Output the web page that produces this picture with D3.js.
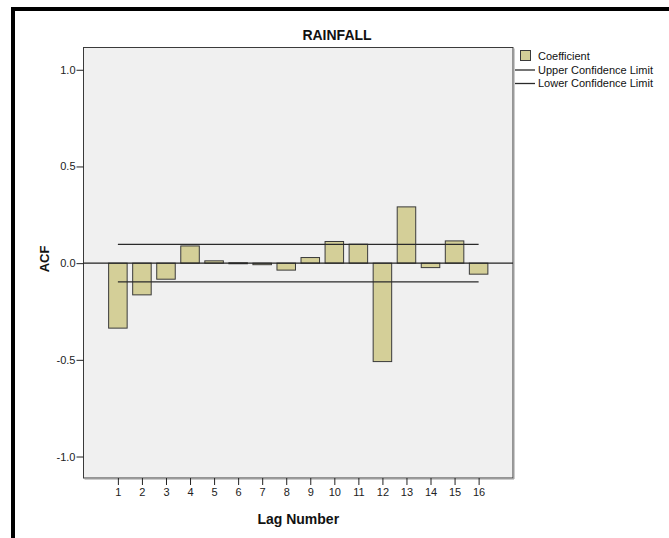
<!DOCTYPE html>
<html>
<head>
<meta charset="utf-8">
<script src="https://cdn.jsdelivr.net/npm/d3@7"></script>
<style>
  html, body { margin: 0; padding: 0; background: #fff; }
  svg { display: block; font-family: "Liberation Sans", Arial, sans-serif; }
</style>
</head>
<body>
<svg id="chart" width="669" height="538"></svg>
<script>
// ---- data ----
const title = "RAINFALL";
const lags = [1, 2, 3, 4, 5, 6, 7, 8, 9, 10, 11, 12, 13, 14, 15, 16];
const coefficients = [-0.336, -0.164, -0.083, 0.089, 0.012, 0.002, -0.008, -0.036,
                      0.029, 0.112, 0.098, -0.509, 0.291, -0.023, 0.115, -0.057];
const upperLimit = [0.097, 0.097, 0.097, 0.097, 0.097, 0.097, 0.097, 0.097,
                    0.097, 0.097, 0.097, 0.097, 0.097, 0.097, 0.097, 0.097];
const lowerLimit = [-0.097, -0.097, -0.097, -0.097, -0.097, -0.097, -0.097, -0.097,
                    -0.097, -0.097, -0.097, -0.097, -0.097, -0.097, -0.097, -0.097];
const yTicks = [-1.0, -0.5, 0.0, 0.5, 1.0];
const legendLabels = ["Coefficient", "Upper Confidence Limit", "Lower Confidence Limit"];
const xLabel = "Lag Number";
const yLabel = "ACF";

// ---- layout ----
const svg = d3.select("#chart");
const plot = { left: 83.5, right: 513, top: 47.5, bottom: 478 };
const barColor = "#d4cf98";

const x = d3.scaleLinear().domain([-0.43, 17.43]).range([plot.left, plot.right]);
const y = d3.scaleLinear().domain([-1.11, 1.11]).range([477.8, 48.5]);
const step = x(2) - x(1);
const barW = step * 0.77;

// outer black frame (top + left)
svg.append("rect").attr("x", 11).attr("y", 7).attr("width", 658).attr("height", 4).attr("fill", "#000");
svg.append("rect").attr("x", 11).attr("y", 7).attr("width", 4).attr("height", 531).attr("fill", "#000");

// plot background
svg.append("rect")
  .attr("x", plot.left).attr("y", plot.top)
  .attr("width", plot.right - plot.left).attr("height", plot.bottom - plot.top)
  .attr("fill", "#f0f0f0").attr("stroke", "#3a3a3a").attr("stroke-width", 1);
// shadow on right/bottom edges
svg.append("path")
  .attr("d", `M${plot.right + 1},${plot.top + 1}V${plot.bottom + 1}H${plot.left + 1}`)
  .attr("fill", "none").attr("stroke", "#9a9a9a").attr("stroke-width", 1);

// bars
const data = lags.map((l, i) => ({ lag: l, v: coefficients[i] }));
svg.append("g").selectAll("rect").data(data).join("rect")
  .attr("x", d => x(d.lag) - barW / 2)
  .attr("y", d => Math.min(y(d.v), y(0)))
  .attr("width", barW)
  .attr("height", d => Math.max(1, Math.abs(y(d.v) - y(0))))
  .attr("fill", barColor)
  .attr("stroke", "#3a3a3a")
  .attr("stroke-width", 1);

// zero line
svg.append("line")
  .attr("x1", plot.left).attr("x2", plot.right)
  .attr("y1", y(0)).attr("y2", y(0))
  .attr("stroke", "#222").attr("stroke-width", 1.3);

// confidence limits
const lineGen = d3.line().x(d => x(d[0])).y(d => y(d[1]));
svg.append("path").datum(lags.map((l, i) => [l, upperLimit[i]]))
  .attr("d", lineGen).attr("fill", "none").attr("stroke", "#2a2a2a").attr("stroke-width", 1.3);
svg.append("path").datum(lags.map((l, i) => [l, lowerLimit[i]]))
  .attr("d", lineGen).attr("fill", "none").attr("stroke", "#2a2a2a").attr("stroke-width", 1.3);

// y axis
const yAxis = d3.axisLeft(y).tickValues(yTicks).tickSizeInner(7).tickSizeOuter(0).tickPadding(1)
  .tickFormat(d => d.toFixed(1));
const gy = svg.append("g").attr("transform", `translate(${plot.left},0)`).call(yAxis);
gy.select(".domain").remove();
gy.selectAll(".tick line").attr("stroke", "#222");
gy.selectAll(".tick text").attr("font-size", 11).attr("fill", "#222")
  .attr("font-family", "Liberation Sans, Arial, sans-serif");

// x axis
const xAxis = d3.axisBottom(x).tickValues(lags).tickSizeInner(7).tickSizeOuter(0).tickPadding(3)
  .tickFormat(d3.format("d"));
const gx = svg.append("g").attr("transform", `translate(0,${plot.bottom})`).call(xAxis);
gx.select(".domain").remove();
gx.selectAll(".tick line").attr("stroke", "#222");
gx.selectAll(".tick text").attr("font-size", 11).attr("fill", "#222")
  .attr("font-family", "Liberation Sans, Arial, sans-serif");

// title
svg.append("text").attr("x", 337).attr("y", 40).attr("text-anchor", "middle")
  .attr("font-size", 14).attr("font-weight", "bold").attr("fill", "#111").text(title);

// axis titles
svg.append("text").attr("x", (plot.left + plot.right) / 2).attr("y", 524)
  .attr("text-anchor", "middle").attr("font-size", 14).attr("font-weight", "bold")
  .attr("fill", "#111").text(xLabel);
svg.append("text").attr("transform", `translate(49,259) rotate(-90)`)
  .attr("text-anchor", "middle").attr("font-size", 13).attr("font-weight", "bold")
  .attr("fill", "#111").text(yLabel);

// legend
const lg = svg.append("g");
lg.append("rect").attr("x", 520.5).attr("y", 50.5).attr("width", 10).attr("height", 10)
  .attr("fill", barColor).attr("stroke", "#3a3a3a");
lg.append("line").attr("x1", 515).attr("x2", 535).attr("y1", 70).attr("y2", 70)
  .attr("stroke", "#2a2a2a").attr("stroke-width", 1.3);
lg.append("line").attr("x1", 515).attr("x2", 535).attr("y1", 83.5).attr("y2", 83.5)
  .attr("stroke", "#2a2a2a").attr("stroke-width", 1.3);
lg.selectAll("text").data(legendLabels).join("text")
  .attr("x", 538).attr("y", (d, i) => [56, 70, 83.5][i]).attr("dy", "0.35em")
  .attr("font-size", 11).attr("fill", "#111").text(d => d);
</script>
</body>
</html>
